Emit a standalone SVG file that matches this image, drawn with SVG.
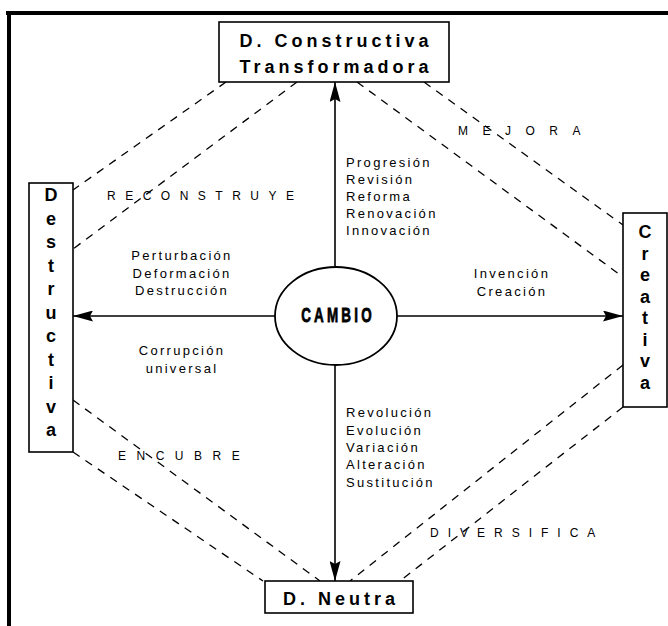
<svg xmlns="http://www.w3.org/2000/svg" width="668" height="626" viewBox="0 0 668 626">
  <defs>
    <marker id="arrow" viewBox="0 0 20 11" refX="20" refY="5.5" markerWidth="20" markerHeight="11" markerUnits="userSpaceOnUse" orient="auto">
      <path d="M0,0 L20,5.5 L0,11 L3,5.5 Z" fill="#000"/>
    </marker>
  </defs>
  <style>
    .box { fill: #fff; stroke: #000; stroke-width: 1.6; }
    .title { font-family: "Liberation Sans", Arial, sans-serif; font-weight: bold; font-size: 18px; letter-spacing: 4px; fill: #000; }
    .vert { font-family: "Liberation Sans", Arial, sans-serif; font-weight: bold; font-size: 18px; fill: #000; text-anchor: middle; }
    .item { font-family: "Liberation Sans", Arial, sans-serif; font-size: 13px; letter-spacing: 2.3px; fill: #000; }
    .rel { font-family: "Liberation Sans", Arial, sans-serif; font-size: 12px; fill: #000; }
    .axis { fill: none; stroke: #000; stroke-width: 1.6; marker-end: url(#arrow); }
    .dash { fill: none; stroke: #000; stroke-width: 1.3; stroke-dasharray: 8 7; }
    .frame { fill: none; stroke: #000; stroke-width: 4; }
  </style>
  <rect width="668" height="626" fill="#fff"/>

  <!-- page frame -->
  <path class="frame" d="M6,13 H668 M9,11 V626"/>

  <!-- connectors -->
  <g id="connectors">
    <line class="axis" x1="335" y1="266" x2="335" y2="82"/>
    <line class="axis" x1="335" y1="365" x2="335" y2="581"/>
    <line class="axis" x1="275" y1="316" x2="73" y2="316"/>
    <line class="axis" x1="397" y1="316" x2="623" y2="316"/>

    <line class="dash" x1="226" y1="82" x2="73" y2="190"/>
    <line class="dash" x1="297" y1="82" x2="73" y2="249"/>
    <line class="dash" x1="357" y1="82" x2="623" y2="277"/>
    <line class="dash" x1="424" y1="82" x2="623" y2="225"/>
    <line class="dash" x1="73" y1="400" x2="320" y2="581"/>
    <line class="dash" x1="73" y1="452" x2="263" y2="581"/>
    <line class="dash" x1="623" y1="365" x2="350" y2="581"/>
    <line class="dash" x1="623" y1="407" x2="400" y2="581"/>
  </g>

  <!-- relation labels -->
  <g id="relation-labels">
    <text class="rel" x="458" y="135" letter-spacing="14.5">MEJORA</text>
    <text class="rel" x="107" y="200" letter-spacing="9.5">RECONSTRUYE</text>
    <text class="rel" x="118" y="460" letter-spacing="10.5">ENCUBRE</text>
    <text class="rel" x="430" y="537" letter-spacing="9">DIVERSIFICA</text>
  </g>

  <!-- change types along each axis -->
  <g id="labels-up">
    <text class="item" x="346" y="167">Progresión</text>
    <text class="item" x="346" y="184">Revisión</text>
    <text class="item" x="346" y="201">Reforma</text>
    <text class="item" x="346" y="218">Renovación</text>
    <text class="item" x="346" y="235">Innovación</text>
  </g>
  <g id="labels-left">
    <text class="item" x="182" y="260" text-anchor="middle">Perturbación</text>
    <text class="item" x="182" y="277.5" text-anchor="middle">Deformación</text>
    <text class="item" x="182" y="295" text-anchor="middle">Destrucción</text>
    <text class="item" x="182" y="355" text-anchor="middle">Corrupción</text>
    <text class="item" x="182" y="373" text-anchor="middle">universal</text>
  </g>
  <g id="labels-right">
    <text class="item" x="512" y="278" text-anchor="middle">Invención</text>
    <text class="item" x="512" y="296" text-anchor="middle">Creación</text>
  </g>
  <g id="labels-down">
    <text class="item" x="346" y="417">Revolución</text>
    <text class="item" x="346" y="435">Evolución</text>
    <text class="item" x="346" y="452">Variación</text>
    <text class="item" x="346" y="469">Alteración</text>
    <text class="item" x="346" y="487">Sustitución</text>
  </g>

  <!-- nodes -->
  <g id="cambio">
    <ellipse cx="336" cy="316" rx="61" ry="49" fill="#fff" stroke="#000" stroke-width="1.8"/>
    <!-- condensed heavy lettering -->
    <text transform="translate(338,322) scale(0.64,1)" x="0" y="0" text-anchor="middle" font-family="'Liberation Sans', Arial, sans-serif" font-weight="bold" font-size="21" letter-spacing="5" stroke="#000" stroke-width="0.8">CAMBIO</text>
  </g>

  <g id="constructiva">
    <rect class="box" x="219" y="22" width="230" height="60"/>
    <text class="title" x="336" y="47" text-anchor="middle">D. Constructiva</text>
    <text class="title" x="336" y="73" text-anchor="middle">Transformadora</text>
  </g>

  <g id="neutra">
    <rect class="box" x="265" y="581" width="148" height="32"/>
    <text class="title" x="341" y="605" text-anchor="middle" letter-spacing="4.5">D. Neutra</text>
  </g>

  <g id="destructiva">
    <rect class="box" x="29" y="183" width="44" height="269"/>
    <text class="vert" x="51" y="201">D</text>
    <text class="vert" x="51" y="224.5">e</text>
    <text class="vert" x="51" y="248">s</text>
    <text class="vert" x="51" y="271.5">t</text>
    <text class="vert" x="51" y="295">r</text>
    <text class="vert" x="51" y="318.5">u</text>
    <text class="vert" x="51" y="342">c</text>
    <text class="vert" x="51" y="365.5">t</text>
    <text class="vert" x="51" y="389">i</text>
    <text class="vert" x="51" y="412.5">v</text>
    <text class="vert" x="51" y="436">a</text>
  </g>

  <g id="creativa">
    <rect class="box" x="623" y="213" width="44" height="194"/>
    <text class="vert" x="645" y="238">C</text>
    <text class="vert" x="645" y="259.5">r</text>
    <text class="vert" x="645" y="281">e</text>
    <text class="vert" x="645" y="302.5">a</text>
    <text class="vert" x="645" y="324">t</text>
    <text class="vert" x="645" y="345.5">i</text>
    <text class="vert" x="645" y="367">v</text>
    <text class="vert" x="645" y="388.5">a</text>
  </g>
</svg>
